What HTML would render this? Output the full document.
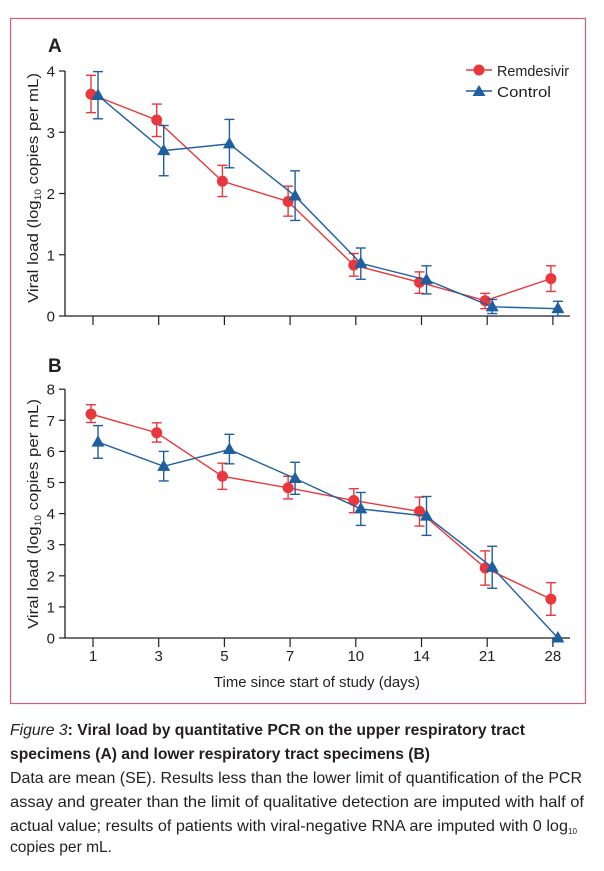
<!DOCTYPE html>
<html><head><meta charset="utf-8"><style>
body{margin:0;background:#fff;}
svg text{font-family:"Liberation Sans",sans-serif;fill:#231f20;}
</style></head><body>
<svg id="s" width="604" height="866" xmlns="http://www.w3.org/2000/svg">
<rect x="10.5" y="18.5" width="575" height="685" fill="none" stroke="#d0607a" stroke-width="1.2"/>
<text x="48" y="52" font-size="19" font-weight="bold">A</text>
<text x="48" y="372" font-size="19" font-weight="bold">B</text>
<g id="g"></g>
<text transform="translate(38,188) rotate(-90)" font-size="15" text-anchor="middle" textLength="230" lengthAdjust="spacingAndGlyphs">Viral load (log<tspan font-size="9" dy="3">10</tspan><tspan dy="-3"> copies per mL)</tspan></text>
<text transform="translate(38,514) rotate(-90)" font-size="15" text-anchor="middle" textLength="230" lengthAdjust="spacingAndGlyphs">Viral load (log<tspan font-size="9" dy="3">10</tspan><tspan dy="-3"> copies per mL)</tspan></text>
<text x="317" y="687" font-size="15" text-anchor="middle" textLength="206" lengthAdjust="spacingAndGlyphs">Time since start of study (days)</text>
<line x1="466" y1="70" x2="492" y2="70" stroke="#e8383d" stroke-width="1.5"/><circle cx="479" cy="70" r="5.5" fill="#e8383d"/>
<text x="497" y="76" font-size="15" textLength="72" lengthAdjust="spacingAndGlyphs">Remdesivir</text>
<line x1="466" y1="91" x2="492" y2="91" stroke="#1f5fa0" stroke-width="1.5"/><path d="M479,85 L485.5,96 L472.5,96Z" fill="#1f5fa0"/>
<text x="497" y="97" font-size="15" textLength="54" lengthAdjust="spacingAndGlyphs">Control</text>
<text x="10" y="735" font-size="16" font-weight="bold" textLength="515" lengthAdjust="spacingAndGlyphs"><tspan font-style="italic" font-weight="normal">Figure 3</tspan>: Viral load by quantitative PCR on the upper respiratory tract</text>
<text x="10" y="759" font-size="16" font-weight="bold" textLength="420" lengthAdjust="spacingAndGlyphs">specimens (A) and lower respiratory tract specimens (B)</text>
<text x="10" y="783" font-size="16" textLength="572" lengthAdjust="spacingAndGlyphs">Data are mean (SE). Results less than the lower limit of quantification of the PCR</text>
<text x="10" y="807" font-size="16" textLength="574" lengthAdjust="spacingAndGlyphs">assay and greater than the limit of qualitative detection are imputed with half of</text>
<text x="10" y="831" font-size="16" textLength="567" lengthAdjust="spacingAndGlyphs">actual value; results of patients with viral-negative RNA are imputed with 0 log<tspan font-size="8" dy="3">10</tspan></text>
<text x="10" y="852" font-size="16" textLength="102" lengthAdjust="spacingAndGlyphs">copies per mL.</text>
</svg>
<script>
var NS="http://www.w3.org/2000/svg",g=document.getElementById("g");
function el(t,a){var e=document.createElementNS(NS,t);for(var k in a)e.setAttribute(k,a[k]);g.appendChild(e);return e;}
function X(i){return 93+i*65.7;}
var R="#e8383d",B="#1f5fa0";
function panel(y0,scale,max,step,labels,rem,con){
 el("line",{x1:65,y1:y0-max*scale,x2:65,y2:y0,stroke:"#231f20","stroke-width":1.3});
 el("line",{x1:65,y1:y0,x2:570,y2:y0,stroke:"#231f20","stroke-width":1.3});
 for(var v=0;v<=max;v+=step){var y=y0-v*scale;el("line",{x1:59,y1:y,x2:65,y2:y,stroke:"#231f20","stroke-width":1.2});
  var t=el("text",{x:55,y:y+5.5,"font-size":15,"text-anchor":"end"});t.textContent=v;}
 for(var i=0;i<8;i++){el("line",{x1:X(i),y1:y0,x2:X(i),y2:y0+9,stroke:"#231f20","stroke-width":1.2});
  if(labels){var t=el("text",{x:X(i),y:y0+23,"font-size":15,"text-anchor":"middle"});t.textContent=[1,3,5,7,10,14,21,28][i];}}
 function series(d,col,dx,tri){
  var pts=d.map(function(p,i){return [X(i)+dx,y0-p[0]*scale];});
  el("polyline",{points:pts.map(function(p){return p.join(",")}).join(" "),fill:"none",stroke:col,"stroke-width":1.4});
  d.forEach(function(p,i){var x=pts[i][0],lo=y0-p[1]*scale,hi=y0-p[2]*scale;
   el("line",{x1:x,y1:lo,x2:x,y2:hi,stroke:col,"stroke-width":1.4});
   el("line",{x1:x-5,y1:lo,x2:x+5,y2:lo,stroke:col,"stroke-width":1.4});
   el("line",{x1:x-5,y1:hi,x2:x+5,y2:hi,stroke:col,"stroke-width":1.4});
   var y=pts[i][1];
   if(tri)el("path",{d:"M"+x+","+(y-7)+" L"+(x+6.5)+","+(y+4.5)+" L"+(x-6.5)+","+(y+4.5)+"Z",fill:col});
   else el("circle",{cx:x,cy:y,r:5.5,fill:col});});
 }
 series(rem,R,-2,false);series(con,B,5,true);
}
panel(316,61.25,4,1,false,
 [[3.62,3.32,3.93],[3.2,2.93,3.46],[2.2,1.95,2.46],[1.87,1.63,2.12],[0.83,0.65,1.02],[0.55,0.37,0.72],[0.25,0.12,0.37],[0.61,0.40,0.82]],
 [[3.6,3.22,3.99],[2.7,2.29,3.11],[2.81,2.42,3.21],[1.96,1.56,2.37],[0.86,0.6,1.11],[0.59,0.36,0.82],[0.15,0.04,0.27],[0.12,0,0.24]]);
panel(638,31.1,8,1,true,
 [[7.2,6.93,7.5],[6.6,6.3,6.92],[5.2,4.78,5.62],[4.83,4.47,5.2],[4.42,4.03,4.8],[4.07,3.6,4.53],[2.25,1.7,2.8],[1.25,0.73,1.78]],
 [[6.3,5.78,6.83],[5.52,5.05,6.0],[6.06,5.6,6.55],[5.13,4.62,5.65],[4.15,3.62,4.68],[3.92,3.3,4.55],[2.27,1.6,2.95],[0,0,0]]);
</script>
</body></html>
